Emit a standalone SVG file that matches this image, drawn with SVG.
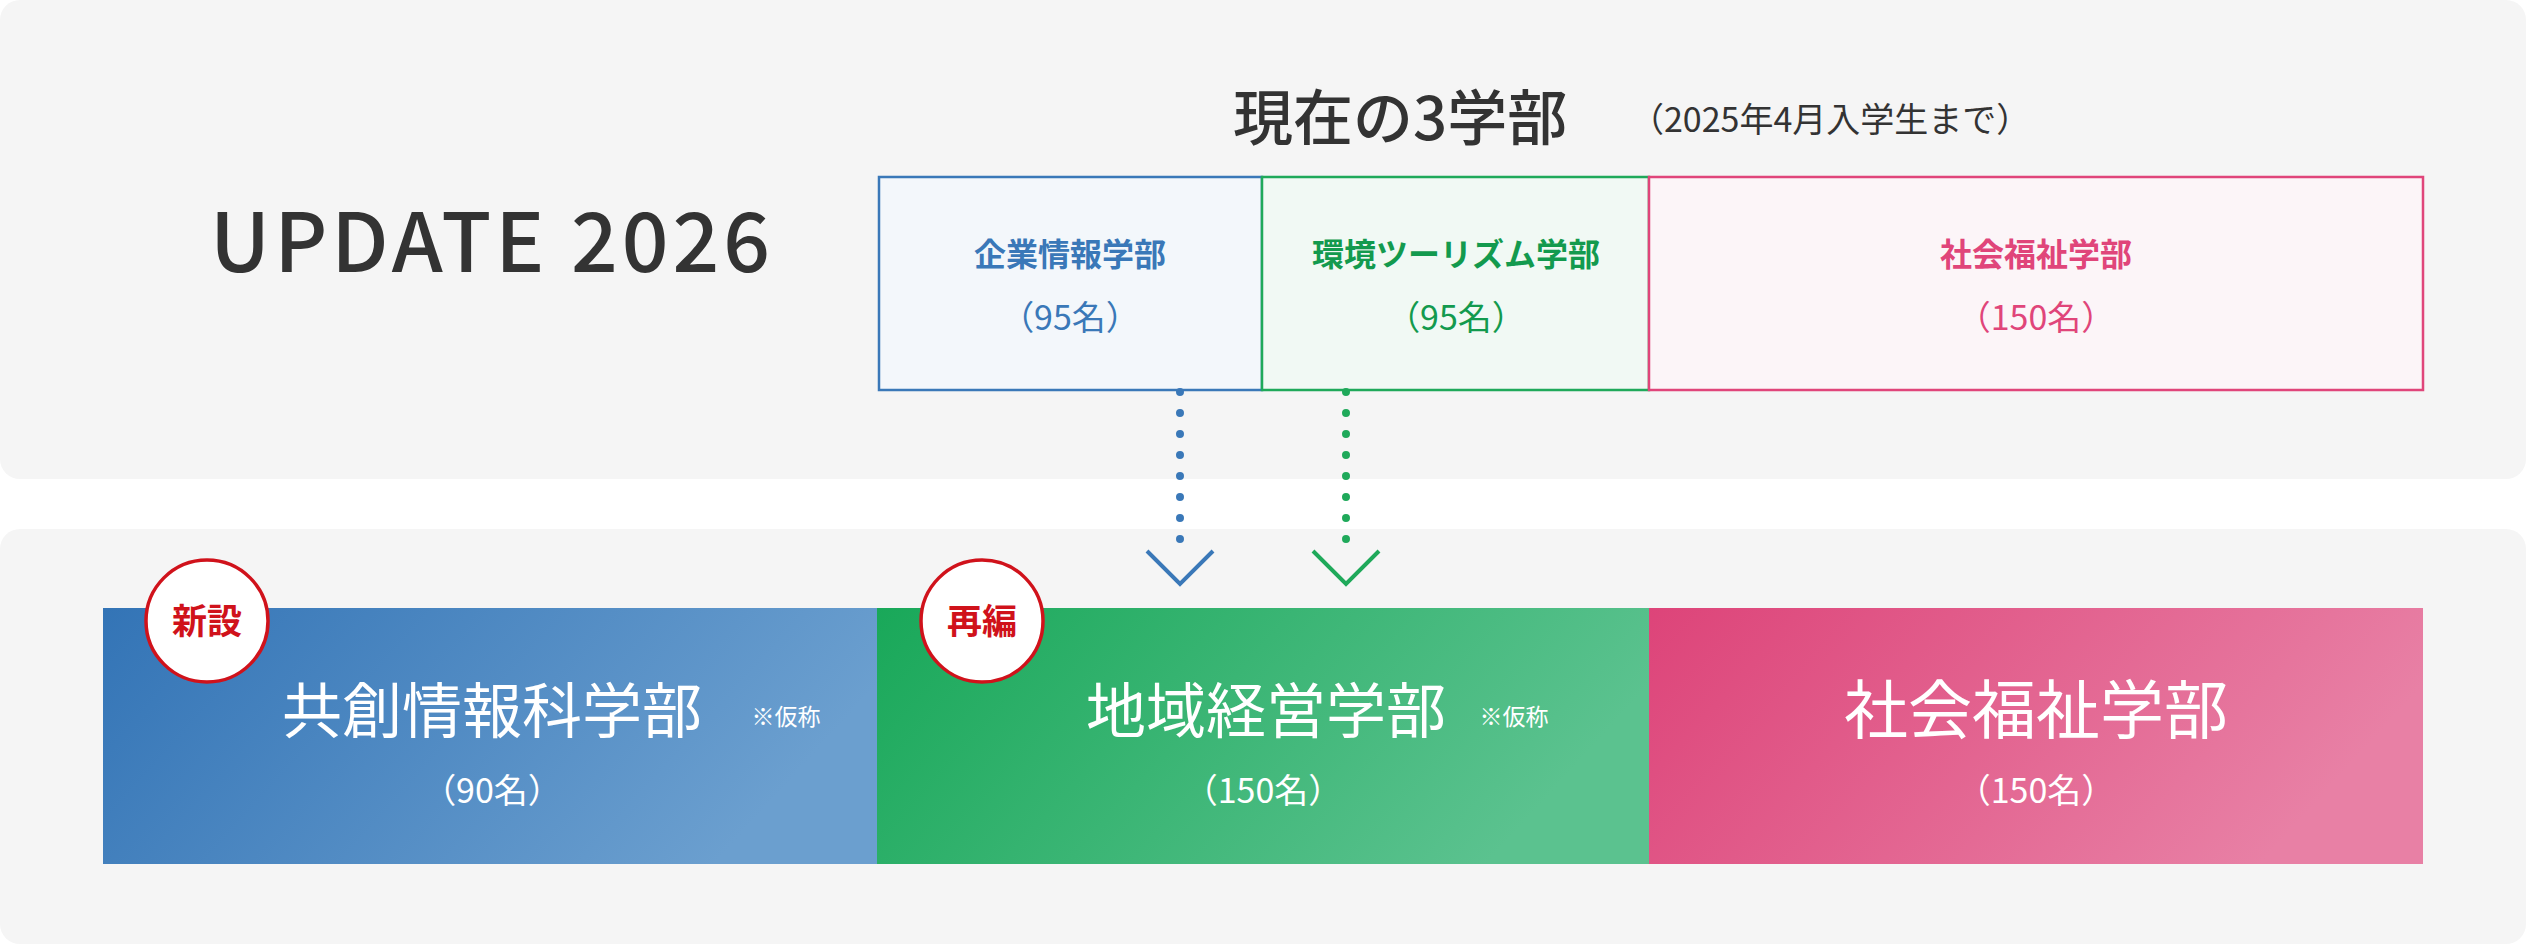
<svg xmlns="http://www.w3.org/2000/svg" width="2528" height="944" viewBox="0 0 2528 944">
<defs>
<linearGradient id="gb" x1="0" y1="0" x2="1" y2="0.3"><stop offset="0" stop-color="#3374b6"/><stop offset="1" stop-color="#6b9fcf"/></linearGradient>
<linearGradient id="gg" x1="0" y1="0" x2="1" y2="0.3"><stop offset="0" stop-color="#19a859"/><stop offset="1" stop-color="#5bc28f"/></linearGradient>
<linearGradient id="gp" x1="0" y1="0" x2="1" y2="0.3"><stop offset="0" stop-color="#dd4479"/><stop offset="1" stop-color="#e880a5"/></linearGradient>
<style>
text{font-family:"Noto Sans CJK JP","Noto Sans",sans-serif;text-anchor:middle}
.dk{fill:#333}
.w{fill:#fff}
.badge{fill:#fff;stroke:#d0121b;stroke-width:3.5}
.bt{fill:#d0121b;font-weight:bold;font-size:35px}
</style>
</defs>
<rect x="0" y="0" width="2526" height="479" rx="20" fill="#f5f5f5"/>
<rect x="0" y="529" width="2526" height="415" rx="20" fill="#f5f5f5"/>
<text x="492" y="272" class="dk" font-size="82" font-weight="500" letter-spacing="4">UPDATE 2026</text>
<text x="1233" y="140" class="dk" font-size="60" font-weight="500" style="text-anchor:start">現在の3学部</text>
<text x="1630" y="132" class="dk" font-size="34" style="text-anchor:start">（2025年4月入学生まで）</text>
<g id="old1"><rect x="879" y="177" width="383" height="213" fill="#f3f7fb" stroke="#3a78b8" stroke-width="2.5"/>
<text x="1070" y="266" fill="#3a78b8" font-size="32" font-weight="bold">企業情報学部</text>
<text x="1070" y="330" fill="#3a78b8" font-size="34">（95名）</text></g>
<g id="old2"><rect x="1262" y="177" width="387" height="213" fill="#f1f9f4" stroke="#1fa95a" stroke-width="2.5"/>
<text x="1456" y="266" fill="#139a4e" font-size="32" font-weight="bold">環境ツーリズム学部</text>
<text x="1456" y="330" fill="#139a4e" font-size="34">（95名）</text></g>
<g id="old3"><rect x="1649" y="177" width="774" height="213" fill="#fcf5f8" stroke="#e0457a" stroke-width="2.5"/>
<text x="2036" y="266" fill="#e0457a" font-size="32" font-weight="bold">社会福祉学部</text>
<text x="2036" y="330" fill="#e0457a" font-size="34">（150名）</text></g>
<g id="connectors" fill="none" stroke-linecap="round">
<line x1="1180" y1="392" x2="1180" y2="560" stroke="#3a78b8" stroke-width="8" stroke-dasharray="0 21"/>
<polyline points="1147,551 1180,584 1213,551" stroke="#3a78b8" stroke-width="4" stroke-linecap="butt"/>
<line x1="1346" y1="392" x2="1346" y2="560" stroke="#1fa95a" stroke-width="8" stroke-dasharray="0 21"/>
<polyline points="1313,551 1346,584 1379,551" stroke="#1fa95a" stroke-width="4" stroke-linecap="butt"/>
</g>
<g id="new1"><rect x="103" y="608" width="774" height="256" fill="url(#gb)"/>
<text x="492" y="733" class="w" font-size="60">共創情報科学部</text>
<text x="786" y="725" class="w" font-size="23">※仮称</text>
<text x="492" y="803" class="w" font-size="34">（90名）</text></g>
<g id="new2"><rect x="877" y="608" width="772" height="256" fill="url(#gg)"/>
<text x="1266" y="733" class="w" font-size="60">地域経営学部</text>
<text x="1514" y="725" class="w" font-size="23">※仮称</text>
<text x="1263" y="803" class="w" font-size="34">（150名）</text></g>
<g id="new3"><rect x="1649" y="608" width="774" height="256" fill="url(#gp)"/>
<text x="2036" y="733" class="w" font-size="64">社会福祉学部</text>
<text x="2036" y="803" class="w" font-size="34">（150名）</text></g>
<g id="badge1"><circle cx="207" cy="621" r="61" class="badge"/><text x="207" y="634" class="bt">新設</text></g>
<g id="badge2"><circle cx="982" cy="621" r="61" class="badge"/><text x="982" y="634" class="bt">再編</text></g>
</svg>
